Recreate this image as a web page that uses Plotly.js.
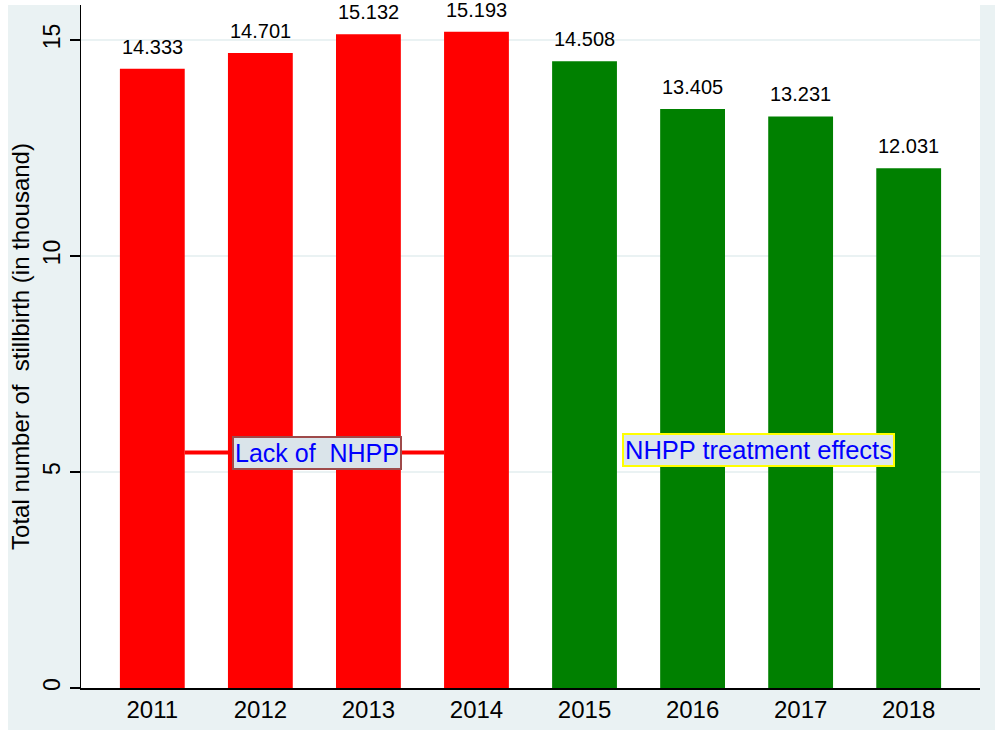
<!DOCTYPE html>
<html>
<head>
<meta charset="utf-8">
<script src="https://cdn.plot.ly/plotly-3.0.1.min.js"></script>
<style>html,body{margin:0;padding:0;background:#fff;}#chart{width:995px;height:730px;}</style>
</head>
<body>
<div id="chart"></div>
<script>
const years = ['2011','2012','2013','2014','2015','2016','2017','2018'];
const stillbirths = [14.333, 14.701, 15.132, 15.193, 14.508, 13.405, 13.231, 12.031];
const barColors = ['#ff0000','#ff0000','#ff0000','#ff0000','#008000','#008000','#008000','#008000'];
const yTicks = [0, 5, 10, 15];
const labelLack = 'Lack of  NHPP';
const labelEffect = 'NHPP treatment effects';

const W = 995, H = 730;
const margin = {l: 81, r: 15, t: 5, b: 42};
const pw = W - margin.l - margin.r, ph = H - margin.t - margin.b;
const FONT = 'Liberation Sans, Arial, sans-serif';

const trace = {
  type: 'bar',
  x: years.map((_, i) => i),
  y: stillbirths,
  marker: {color: barColors, line: {width: 0}},
  width: 0.6,
  hoverinfo: 'x+y'
};

const valueLabels = stillbirths.map((v, i) => ({
  x: i, y: v, xref: 'x', yref: 'y',
  text: v.toFixed(3), showarrow: false,
  yanchor: 'bottom', yshift: 9,
  font: {family: FONT, size: 20, color: '#000'}
}));

const layout = {
  width: W, height: H,
  margin: margin,
  paper_bgcolor: '#eaf2f3',
  plot_bgcolor: '#ffffff',
  showlegend: false,
  font: {family: FONT, color: '#000'},
  xaxis: {
    range: [-0.66, 7.66],
    tickmode: 'array',
    tickvals: years.map((_, i) => i),
    ticktext: years,
    ticks: '',
    showgrid: false,
    zeroline: false,
    showline: true, linecolor: '#000', linewidth: 1.5,
    tickfont: {size: 24},
    fixedrange: true
  },
  yaxis: {
    range: [0, 15.81],
    tickmode: 'array',
    tickvals: yTicks,
    ticktext: yTicks.map(String),
    tickangle: -90,
    ticks: 'outside', ticklen: 10, tickwidth: 1.2, tickcolor: '#000',
    showgrid: true, gridcolor: '#eaf2f3', gridwidth: 2,
    zeroline: false,
    showline: true, linecolor: '#000', linewidth: 1.5,
    tickfont: {size: 23},
    title: {text: 'Total number of  stillbirth (in thousand)', font: {size: 24}, standoff: 3},
    fixedrange: true
  },
  shapes: [
    {type: 'rect', xref: 'paper', yref: 'paper', x0: -margin.l/pw, x1: -(margin.l-8)/pw, y0: -margin.b/ph, y1: 1 + margin.t/ph, fillcolor: '#ffffff', line: {width: 0}, layer: 'below'},
    {type: 'rect', xref: 'paper', yref: 'paper', x0: -margin.l/pw, x1: 1 + margin.r/pw, y0: 1, y1: 1 + margin.t/ph, fillcolor: '#ffffff', line: {width: 0}, layer: 'below'},
    {type: 'line', xref: 'x', yref: 'y', x0: 0.3, x1: 2.7, y0: 5.45, y1: 5.45, line: {color: '#ff0000', width: 4}}
  ],
  annotations: valueLabels.concat([
    {x: 1.52, y: 5.45, xref: 'x', yref: 'y', text: labelLack, showarrow: false,
     bgcolor: '#dae4ea', bordercolor: '#9e4a4a', borderwidth: 2, borderpad: 1,
     font: {size: 25, color: '#0000ff'}},
    {x: 5.61, y: 5.52, xref: 'x', yref: 'y', text: labelEffect, showarrow: false,
     bgcolor: '#dce6ec', bordercolor: '#ffff00', borderwidth: 2, borderpad: 1,
     font: {size: 25.5, color: '#0000ff'}}
  ])
};

Plotly.newPlot('chart', [trace], layout, {displayModeBar: false, staticPlot: true});
</script>
</body>
</html>
